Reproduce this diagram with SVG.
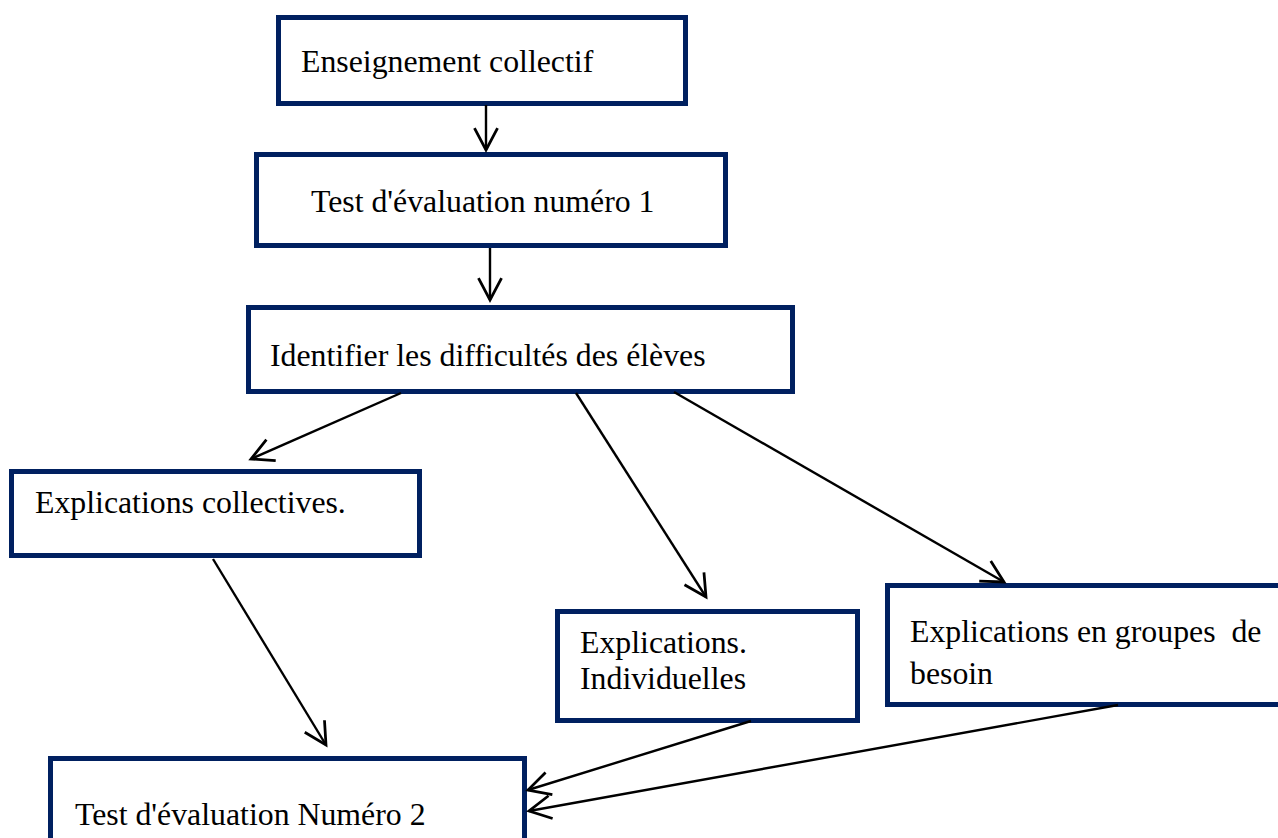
<svg xmlns="http://www.w3.org/2000/svg" width="1278" height="838" viewBox="0 0 1278 838">
<defs>
<style>
.box{fill:#ffffff;stroke:#002060;stroke-width:5}
.lbl{font-family:"Liberation Serif","Times New Roman",serif;font-size:31.8px;fill:#000000;white-space:pre}
.con{stroke:#000000;stroke-width:2.4;fill:none}
</style>
<marker id="arr" markerUnits="userSpaceOnUse" markerWidth="30" markerHeight="30" viewBox="-22 -12 26 24" refX="0" refY="0" orient="auto">
<path d="M-19,-10 L0,0 L-19,10" fill="none" stroke="#000000" stroke-width="2.4"/>
</marker>
</defs>
<rect width="1278" height="838" fill="#ffffff"/>
<g id="n1"><rect class="box" x="278.5" y="17.5" width="407" height="86"/><text class="lbl" x="301" y="72">Enseignement collectif</text></g>
<g id="n2"><rect class="box" x="256.5" y="154.5" width="469" height="91"/><text class="lbl" x="311" y="212">Test d'évaluation numéro 1</text></g>
<g id="n3"><rect class="box" x="248.5" y="307.5" width="544" height="84"/><text class="lbl" x="270" y="366">Identifier les difficultés des élèves</text></g>
<g id="n4"><rect class="box" x="11.5" y="471.5" width="408" height="84"/><text class="lbl" x="35" y="513">Explications collectives.</text></g>
<g id="n5"><rect class="box" x="557.5" y="611.5" width="300" height="109"/><text class="lbl" x="580" y="653">Explications.</text><text class="lbl" x="580" y="689">Individuelles</text></g>
<g id="n6"><rect class="box" x="887.5" y="585.5" width="410" height="119"/><text class="lbl" x="910" y="642" xml:space="preserve">Explications en groupes  de</text><text class="lbl" x="910" y="684">besoin</text></g>
<g id="n7"><rect class="box" x="50.5" y="758.5" width="474" height="110"/><text class="lbl" x="75" y="825">Test d'évaluation Numéro 2</text></g>
<g id="connectors">
<line class="con" x1="486" y1="105" x2="486" y2="150" marker-end="url(#arr)"/>
<line class="con" x1="490" y1="248" x2="490" y2="300" marker-end="url(#arr)"/>
<line class="con" x1="401" y1="393" x2="251" y2="459" marker-end="url(#arr)"/>
<line class="con" x1="576" y1="393" x2="706" y2="597" marker-end="url(#arr)"/>
<line class="con" x1="674" y1="392" x2="1004" y2="582" marker-end="url(#arr)"/>
<line class="con" x1="213" y1="559" x2="326" y2="745" marker-end="url(#arr)"/>
<line class="con" x1="751" y1="721" x2="528" y2="790" marker-end="url(#arr)"/>
<line class="con" x1="1118" y1="705" x2="529" y2="811" marker-end="url(#arr)"/>
</g>
</svg>
